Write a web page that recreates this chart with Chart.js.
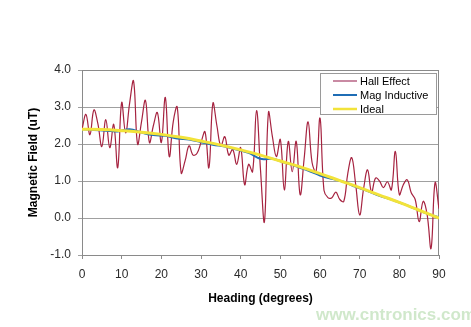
<!DOCTYPE html>
<html><head><meta charset="utf-8">
<script src="https://cdn.jsdelivr.net/npm/chart.js@4"></script>
<style>html,body{margin:0;padding:0;background:#fff;}#wrap{width:471px;height:327px;position:relative;}</style>
</head><body><div id="wrap"><canvas id="c" width="471" height="327"></canvas></div>
<script>
const hallHeadings = [0,1,2,3,4,5,6,7,8,9,10,11,12,13,14,15,16,17,18,19,20,21,22,23,24,25,26,27,28,29,30,31,32,33,34,35,36,37,38,39,40,41,42,43,44,45,46,47,48,49,50,51,52,53,54,55,56,57,58,59,60,61,62,63,64,65,66,67,68,69,70,71,72,73,74,75,76,77,78,79,80,81,82,83,84,85,86,87,88,89,90];
const hallField = [2.40,2.80,2.25,2.92,2.55,1.93,2.66,1.90,2.53,1.36,3.12,2.30,3.10,3.70,2.00,2.60,3.18,2.04,2.50,2.85,2.04,3.26,1.66,2.60,3.00,1.22,1.55,1.95,1.70,1.75,2.04,2.33,1.36,3.10,2.50,1.95,2.20,1.70,1.85,1.45,1.90,0.90,1.45,1.25,2.90,1.30,-0.10,2.85,2.20,1.66,2.12,0.76,2.07,1.25,2.07,0.63,1.60,2.60,1.50,1.25,2.70,0.75,0.55,0.55,0.70,0.50,0.45,1.20,1.63,0.90,0.08,0.80,1.30,0.70,1.08,1.00,0.82,0.98,0.76,1.80,0.63,0.90,1.03,0.68,0.50,-0.10,0.45,0.10,-0.82,0.95,0.25];
const magHeadings = [0,3,6,9,12,15,18,21,24,27,30,33,36,39,42,45,48,51,54,57,60,63,66,69,72,75,78,81,84,87,90];
const magField = [2.40,2.38,2.36,2.34,2.40,2.31,2.24,2.22,2.15,2.12,2.05,1.98,1.93,1.85,1.76,1.60,1.60,1.50,1.40,1.28,1.15,1.06,0.98,0.84,0.73,0.60,0.50,0.38,0.25,0.12,0.02];
const idealHeadings = [0,5,10,15,20,25,30,35,40,45,50,55,60,65,70,75,80,85,90];
const idealField = [2.40,2.39,2.36,2.32,2.26,2.18,2.08,1.97,1.84,1.70,1.54,1.38,1.20,1.01,0.82,0.62,0.42,0.21,0.00];
const xTicks = [0,10,20,30,40,50,60,70,80,90];
const yTicks = [-1,0,1,2,3,4];
const seriesNames = ['Hall Effect','Mag Inductive','Ideal'];
const seriesColors = ['#a62340','#1f6db5','#f2e33a'];
const legendColors = ['#c98aa3','#1f6db5','#f2e33a'];

const pts = (xs, ys) => xs.map((x, i) => ({x: x, y: ys[i]}));
const FONT = "'Liberation Sans', Arial, sans-serif";

const decor = {
  id: 'decor',
  beforeDatasetsDraw(chart) {
    const {ctx, chartArea: a} = chart;
    ctx.save();
    ctx.strokeStyle = '#8a8a8a';
    ctx.lineWidth = 1;
    ctx.beginPath();
    ctx.moveTo(a.left, a.top + 0.5); ctx.lineTo(a.right, a.top + 0.5);
    ctx.moveTo(a.right - 0.5, a.top); ctx.lineTo(a.right - 0.5, a.bottom);
    ctx.stroke();
    ctx.restore();
  },
  afterDraw(chart) {
    const {ctx} = chart;
    ctx.save();
    const bx = 320, by = 73, bw = 116, bh = 41;
    ctx.fillStyle = '#fff';
    ctx.fillRect(bx, by, bw, bh);
    ctx.strokeStyle = '#9a9a9a';
    ctx.lineWidth = 1;
    ctx.strokeRect(bx + 0.5, by + 0.5, bw, bh);
    ctx.font = '11px ' + FONT;
    ctx.textBaseline = 'middle';
    ctx.fillStyle = '#000';
    const rows = [81, 95, 109];
    seriesNames.forEach((n, i) => {
      ctx.strokeStyle = legendColors[i];
      ctx.lineWidth = i === 2 ? 2.5 : 2;
      ctx.beginPath();
      ctx.moveTo(333, rows[i]); ctx.lineTo(357, rows[i]);
      ctx.stroke();
      ctx.fillText(n, 360, rows[i] + 0.5);
    });
    ctx.font = 'bold 17px ' + FONT;
    ctx.fillStyle = 'rgba(150,205,140,0.45)';
    ctx.textBaseline = 'alphabetic';
    ctx.fillText('www.cntronics.com', 316, 320);
    ctx.restore();
  }
};

new Chart(document.getElementById('c'), {
  type: 'line',
  data: {
    datasets: [
      {label: seriesNames[2], data: pts(idealHeadings, idealField), borderColor: seriesColors[2], borderWidth: 3, pointRadius: 0, tension: 0.4, order: 1},
      {label: seriesNames[1], data: pts(magHeadings, magField), borderColor: seriesColors[1], borderWidth: 2, pointRadius: 0, tension: 0.4, order: 2},
      {label: seriesNames[0], data: pts(hallHeadings, hallField), borderColor: seriesColors[0], borderWidth: 1.2, pointRadius: 0, tension: 0.4, order: 3}
    ]
  },
  options: {
    responsive: false,
    animation: false,
    devicePixelRatio: 1,
    layout: {padding: {left: 26, right: 32, top: 70, bottom: 18}},
    plugins: {legend: {display: false}, tooltip: {enabled: false}},
    scales: {
      x: {
        type: 'linear', min: 0, max: 90,
        afterBuildTicks: s => { s.ticks = xTicks.map(v => ({value: v})); },
        afterFit: s => { s.height = 327 - 255 - 18; },
        ticks: {font: {family: FONT, size: 12}, color: '#2a2a2a', padding: 8, maxRotation: 0},
        grid: {drawOnChartArea: false, drawTicks: true, tickLength: 4, color: '#8a8a8a'},
        border: {color: '#8a8a8a'},
        title: {display: true, text: 'Heading (degrees)', font: {family: FONT, size: 12, weight: 'bold'}, color: '#000', padding: {top: 4, bottom: 3}}
      },
      y: {
        min: -1, max: 4,
        afterBuildTicks: s => { s.ticks = yTicks.map(v => ({value: v})); },
        afterFit: s => { s.width = 82 - 26; },
        ticks: {font: {family: FONT, size: 12}, color: '#2a2a2a', padding: 7, callback: v => v.toFixed(1)},
        grid: {color: '#a0a0a0', tickLength: 4},
        border: {color: '#8a8a8a'},
        title: {display: true, text: 'Magnetic Field (uT)', font: {family: FONT, size: 12, weight: 'bold'}, color: '#000', padding: 0}
      }
    }
  },
  plugins: [decor]
});
</script></body></html>
